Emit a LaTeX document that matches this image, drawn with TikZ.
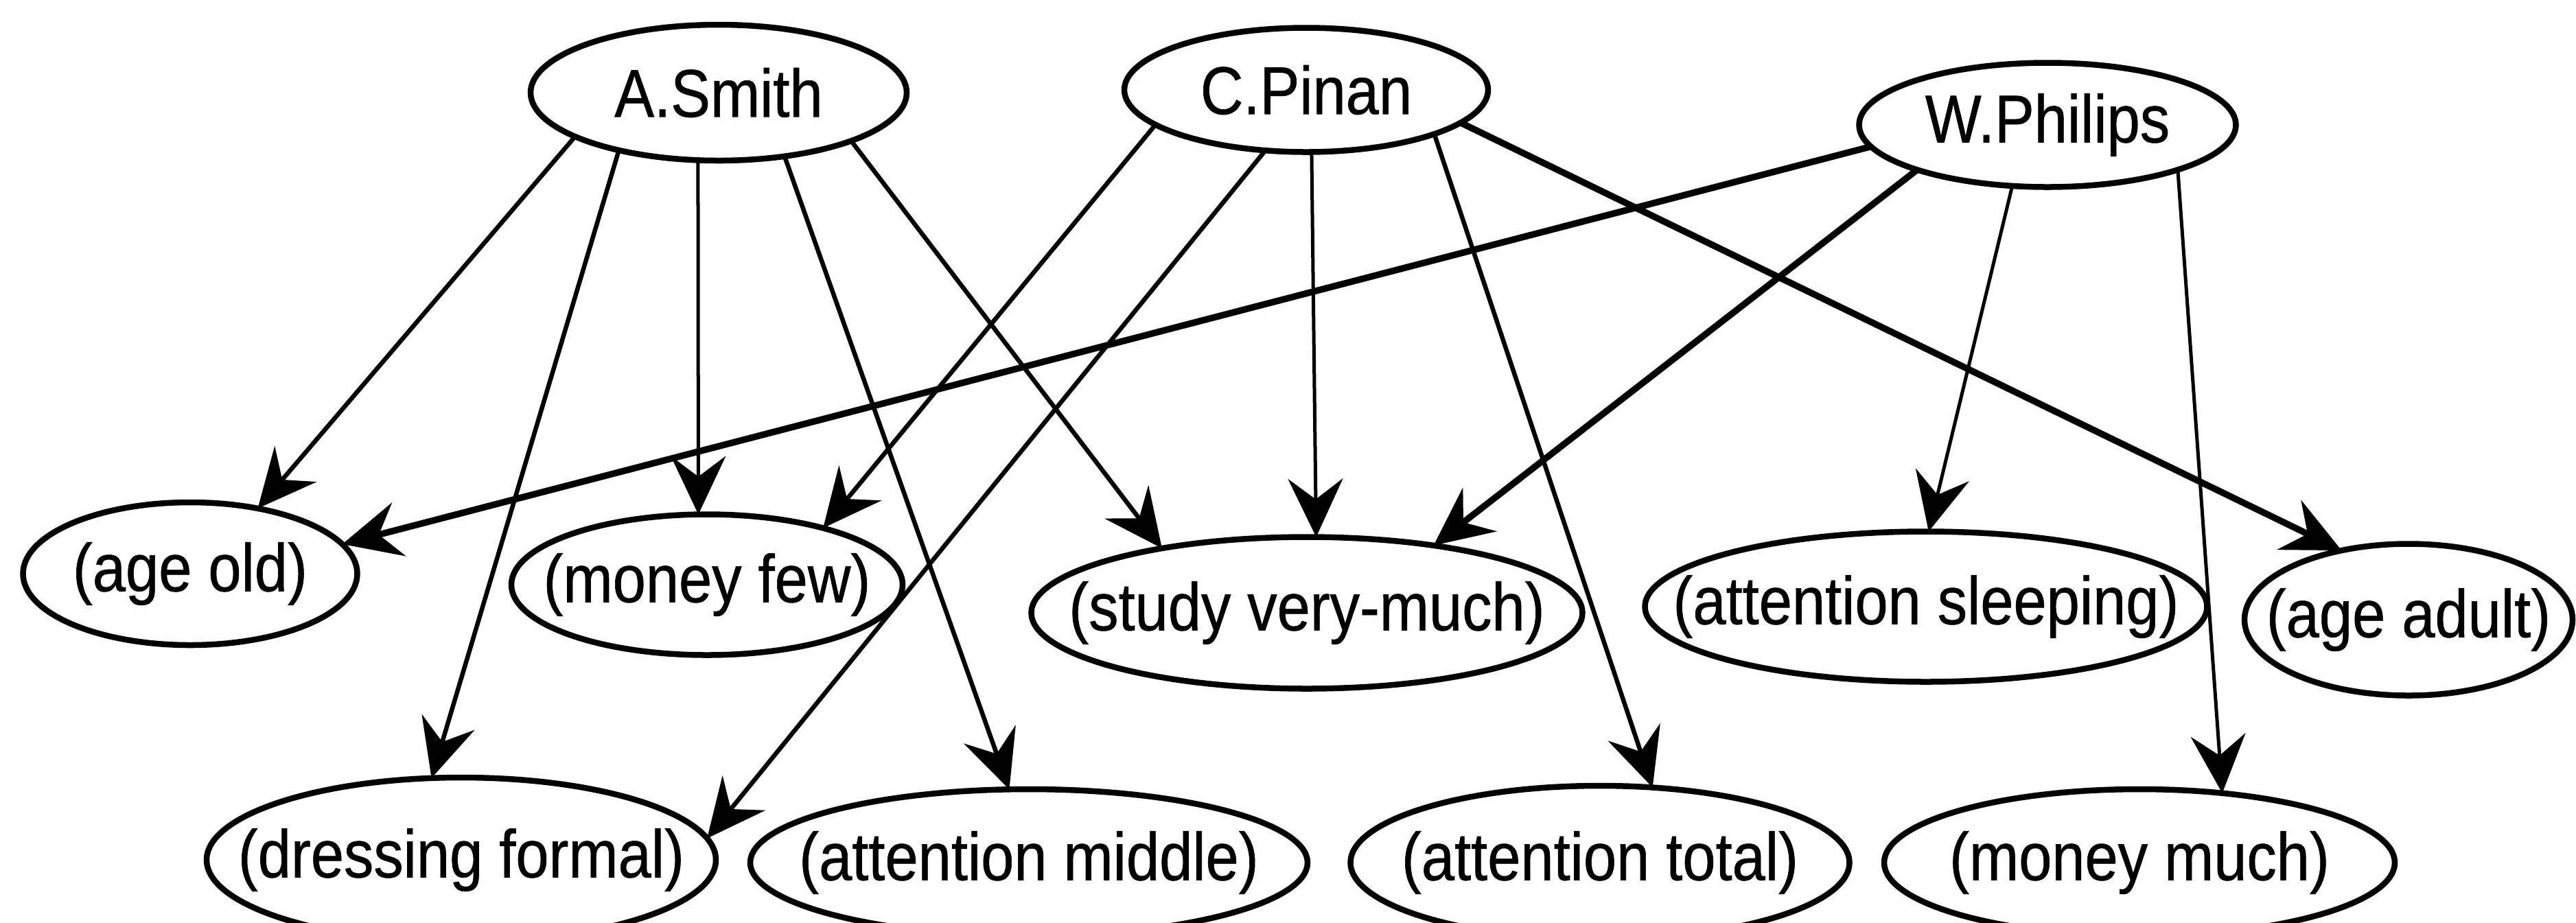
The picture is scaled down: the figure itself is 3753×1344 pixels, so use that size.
\documentclass[tikz,border=0pt]{standalone}
\usepackage{fontspec}
\setmainfont{Liberation Sans}[FakeStretch=0.88,FakeBold=0.6]
\usetikzlibrary{shapes.geometric,arrows.meta}
\begin{document}
\begin{tikzpicture}[x=0.01cm,y=-0.01cm,
  font=\fontsize{28}{33}\selectfont,
  el/.style n args={3}{ellipse, draw, line width=0.085cm,
    minimum width=#1*0.01cm, minimum height=#2*0.01cm,
    inner sep=0pt, outer sep=0pt, label={center:{#3}}},
  arr/.style={-{Stealth[length=0.85cm,width=0.8cm,inset=0.3cm]}},
  thinline/.style={arr, line width=0.05cm},
  midline/.style={arr, line width=0.065cm},
  thickline/.style={arr, line width=0.095cm}]

\useasboundingbox (0,0) rectangle (3753,1344);
\fill[white] (0,0) rectangle (3753,1344);
\clip (0,0) rectangle (3753,1344);

% persons
\node[el={548}{198}{A.Smith}]   (as) at (1047,135) {};
\node[el={530}{181}{C.Pinan}]   (cp) at (1903,131) {};
\node[el={549}{181}{W.Philips}] (wp) at (2983,182) {};

% middle row of attribute values
\node[el={487}{208}{(age old)}]            (ao)  at (277,836)  {};
\node[el={570}{205}{(money few)}]          (mf)  at (1030,852) {};
\node[el={803}{221}{(study very-much)}]    (sv)  at (1904,893) {};
\node[el={819}{219}{(attention sleeping)}] (asl) at (2806,884) {};
\node[el={478}{221}{(age adult)}]          (aa)  at (3509,903) {};

% bottom row of attribute values
\node[el={742}{240}{(dressing formal)}]  (df) at (672,1253)  {};
\node[el={812}{214}{(attention middle)}] (am) at (1499,1257) {};
\node[el={727}{224}{(attention total)}]  (at) at (2331,1257) {};
\node[el={744}{214}{(money much)}]       (mm) at (3117,1257) {};

% A.Smith
\draw[midline]  (as.197) -- (ao.44);
\draw[midline]  (as.210) -- (df.110);
\draw[thinline] (as.253) -- (mf.97);
\draw[midline]  (as.316) -- (am.105);
\draw[midline]  (as.340) -- (sv.156);

% C.Pinan
\draw[midline]   (cp.193) -- (mf.26);
\draw[midline]   (cp.236) -- (df.5);
\draw[thinline]  (cp.275) -- (sv.83);
\draw[midline]   (cp.341) -- (at.55);
\draw[thickline] (cp.348) -- (aa.134);

% W.Philips
\draw[thickline] (wp.187) -- (ao.11);
\draw[thickline] (wp.199) -- (sv.28);
\draw[thinline]  (wp.240) -- (asl.88);
\draw[thinline]  (wp.341) -- (mm.40);

\end{tikzpicture}
\end{document}
